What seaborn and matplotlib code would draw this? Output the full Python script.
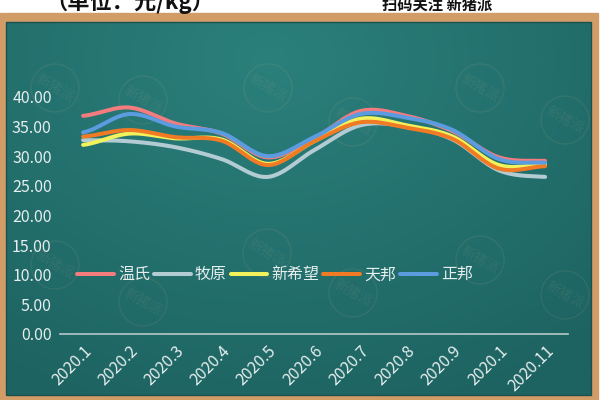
import matplotlib

matplotlib.use("Agg")

import matplotlib.pyplot as plt
import numpy as np
import pandas as pd
import seaborn as sns
from matplotlib.patches import Circle, Rectangle

MONTHS = ["2020.1", "2020.2", "2020.3", "2020.4", "2020.5", "2020.6",
          "2020.7", "2020.8", "2020.9", "2020.1", "2020.11"]
COMPANIES = ["温氏", "牧原", "新希望", "天邦", "正邦"]
WENS = [36.8, 38.2, 35.5, 33.8, 29.8, 33.0, 37.6, 36.8, 34.2, 29.8, 29.2]
MUYUAN = [32.7, 32.5, 31.5, 29.5, 26.5, 31.0, 35.2, 35.0, 32.8, 27.6, 26.5]
XINXIWANG = [31.9, 33.8, 33.0, 32.8, 28.7, 32.5, 36.3, 35.2, 33.3, 28.5, 28.6]
TIANBANG = [33.3, 34.4, 33.2, 32.6, 28.5, 32.5, 35.7, 34.8, 32.9, 27.9, 28.3]
ZHENGBANG = [34.0, 37.1, 35.0, 33.9, 30.0, 33.2, 37.1, 36.5, 34.4, 29.5, 28.9]
COLORS = ["#f47c7e", "#b3ccd3", "#f2f25c", "#f07b24", "#5b9be0"]

TEXT = "#e6eeee"
CJK = ["Noto Sans CJK SC", "DejaVu Sans"]


def smooth(values, steps=24):
    # Excel-style smoothed line (Bezier with 1/6 tangents)
    pts = np.asarray(values, dtype=float)
    n = len(pts)
    xs, ys = [], []
    t = np.linspace(0, 1, steps, endpoint=False)
    for i in range(n - 1):
        p0, p1, p2 = pts[max(i - 1, 0)], pts[i], pts[i + 1]
        p3 = pts[min(i + 2, n - 1)]
        c1 = p1 + (p2 - p0) / 6
        c2 = p2 - (p3 - p1) / 6
        b = (1 - t) ** 3 * p1 + 3 * (1 - t) ** 2 * t * c1 + 3 * (1 - t) * t ** 2 * c2 + t ** 3 * p2
        xs.extend(i + t)
        ys.extend(b)
    xs.append(n - 1)
    ys.append(pts[-1])
    return np.array(xs), np.array(ys)


series = [WENS, MUYUAN, XINXIWANG, TIANBANG, ZHENGBANG]
frames = []
for name, vals in zip(COMPANIES, series):
    sx, sy = smooth(vals)
    frames.append(pd.DataFrame({"x": sx, "price": sy, "company": name}))
df = pd.concat(frames, ignore_index=True)

sns.set_theme(style="white")
plt.rcParams["font.family"] = CJK

fig = plt.figure(figsize=(6, 4), dpi=100)
fig.patch.set_facecolor("white")

# background: frame, chalkboard, watermarks (pixel coords)
bg = fig.add_axes([0, 0, 1, 1], zorder=-1)
bg.set_xlim(0, 600)
bg.set_ylim(400, 0)
bg.axis("off")
bg.add_patch(Rectangle((0, 13), 598, 387, color="#d29c66"))
yy, xx = np.mgrid[0:1:200j, 0:1:300j]
dist = np.sqrt(((xx - 0.45) * 1.2) ** 2 + ((yy - 0.1) * 1.0) ** 2)
c0 = np.array([43, 128, 124]) / 255
c1 = np.array([29, 99, 97]) / 255
grad = c0 + np.clip(dist / 1.0, 0, 1)[..., None] * (c1 - c0)
bg.imshow(grad, extent=(6, 591, 395, 22), aspect="auto", zorder=1)
bg.add_patch(Rectangle((6, 22), 585, 373, fill=False, ec="#1a504e", lw=1, zorder=2))
for cx, cy in [(55, 88), (143, 100), (268, 88), (353, 122), (480, 88), (565, 120),
               (55, 265), (143, 302), (267, 253), (353, 293), (480, 260), (565, 295)]:
    bg.add_patch(Circle((cx, cy), 24, fill=False, ec="#d9b48a", alpha=0.1, lw=1, zorder=3))
    bg.text(cx, cy, "新猪派", color="#d9b48a", alpha=0.1, fontsize=10, rotation=-30,
            ha="center", va="center", zorder=3)
bg.text(45, 2, "（单位：元/kg）", fontsize=16, fontweight="bold", color="#111111",
        ha="left", va="center")
bg.text(492, 5, "扫码关注 新猪派", fontsize=11, fontweight="bold", color="#111111",
        ha="right", va="center")

ax = fig.add_axes([0.1, 0.165, 0.847, 0.667])
ax.set_facecolor("none")
sns.lineplot(data=df, x="x", y="price", hue="company", palette=COLORS,
             hue_order=COMPANIES, sort=False, estimator=None, lw=2.9, ax=ax)

ax.set_xlim(-0.5, 10.5)
ax.set_ylim(0, 45)
ax.set_yticks(np.arange(0, 41, 5))
ax.set_yticklabels([f"{v:.2f}" for v in np.arange(0, 41, 5)])
ax.set_xticks(range(len(MONTHS)))
ax.set_xticklabels(MONTHS, rotation=45, ha="right", va="top", rotation_mode="anchor")
ax.tick_params(axis="both", colors=TEXT, labelsize=11.5, length=0, pad=6)
ax.set_xlabel("")
ax.set_ylabel("")
for side in ["top", "right", "left"]:
    ax.spines[side].set_visible(False)
ax.spines["bottom"].set_color("#b6c8c8")
ax.spines["bottom"].set_linewidth(1.2)

handles, labels = ax.get_legend_handles_labels()
leg = ax.legend(handles, labels, ncol=5, loc="center", bbox_to_anchor=(0.423, 0.222),
                frameon=False, fontsize=11.5, handlelength=2.3, handletextpad=0.25,
                columnspacing=0.25, labelcolor=TEXT)
for line in leg.get_lines():
    line.set_linewidth(2.9)

fig.savefig("out.png", dpi=100, facecolor=fig.get_facecolor())
